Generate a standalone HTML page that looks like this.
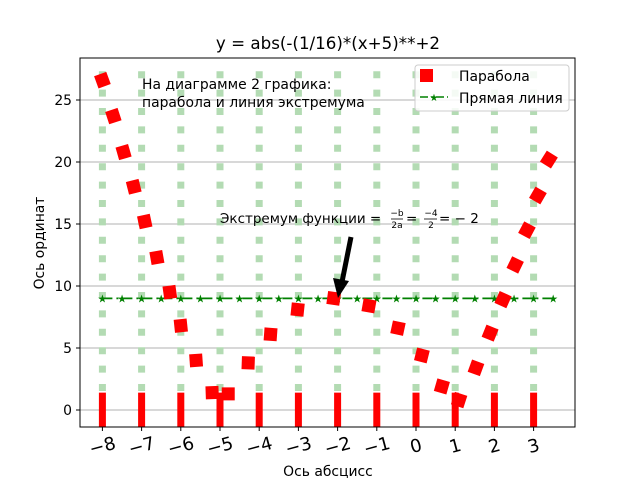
<!DOCTYPE html>
<html><head><meta charset="utf-8"><style>
body{margin:0;background:#fff}
svg{font-family:"DejaVu Sans","Liberation Sans",sans-serif}
</style></head><body>
<svg id="chart" width="640" height="480" viewBox="0 0 640 480" xmlns="http://www.w3.org/2000/svg">
<rect x="0" y="0" width="640" height="480" fill="#fff"/>
<g id="grid"></g>
<g id="marks"></g>
<rect x="80" y="58" width="495" height="369" fill="none" stroke="#000" stroke-width="1"/>
<g id="axes"></g>
<text x="328" y="49" font-size="16.7" text-anchor="middle">y = abs(-(1/16)*(x+5)**+2</text>
<text x="328" y="476" font-size="13.9" text-anchor="middle">Ось абсцисс</text>
<text x="44" y="243" font-size="13.9" text-anchor="middle" transform="rotate(-90 44 243)">Ось ординат</text>
<text x="142" y="89" font-size="13.9"><tspan x="142">На диаграмме 2 графика:</tspan><tspan x="142" dy="18">парабола и линия экстремума</tspan></text>
<g>
<text x="220" y="223" font-size="13.5">Экстремум функции =</text>
<text x="397" y="216" font-size="9" text-anchor="middle">−b</text>
<line x1="391" y1="219" x2="403" y2="219" stroke="#000" stroke-width="0.8"/>
<text x="397" y="228" font-size="9" text-anchor="middle">2a</text>
<text x="406" y="223" font-size="13.5">=</text>
<text x="431" y="216" font-size="9" text-anchor="middle">−4</text>
<line x1="424" y1="219" x2="437" y2="219" stroke="#000" stroke-width="0.8"/>
<text x="431" y="228" font-size="9" text-anchor="middle">2</text>
<text x="439" y="223" font-size="13.5">= − 2</text>
</g>
<g>
<line x1="351" y1="237" x2="342" y2="282" stroke="#000" stroke-width="5"/>
<polygon points="333,278 349,281 338,298" fill="#000"/>
</g>
<g>
<rect x="415" y="65" width="154" height="46" rx="3" fill="#fff" fill-opacity="0.85" stroke="#ccc"/>
<rect x="420" y="69" width="13" height="13" fill="red"/>
<text x="459" y="81" font-size="13.9">Парабола</text>
<line x1="420" y1="97" x2="448" y2="97" stroke="green" stroke-width="1.5" stroke-dasharray="8 3 2 3"/>
<text x="434" y="101" font-size="10" fill="green" text-anchor="middle">★</text>
<text x="459" y="103" font-size="13.9">Прямая линия</text>
</g>
</svg>
<script>
const xTickLabels = ["−8","−7","−6","−5","−4","−3","−2","−1","0","1","2","3"];
const xTickValues = [-8,-7,-6,-5,-4,-3,-2,-1,0,1,2,3];
const yTickValues = [0,5,10,15,20,25];
const parabolaX = [-8,-7.72,-7.46,-7.2,-6.92,-6.61,-6.28,-6,-5.61,-5.2,-4.79,-4.28,-3.71,-3.02,-2.1,-1.2,-0.46,0.15,0.66,1.1,1.53,1.89,2.22,2.53,2.83,3.11,3.39];
const parabolaY = [26.6,23.7,20.8,18.0,15.2,12.3,9.5,6.8,4.0,1.4,1.3,3.8,6.1,8.1,9.0,8.4,6.6,4.4,1.9,0.8,3.4,6.2,8.9,11.7,14.5,17.3,20.2];
const lineY = 9;
const lineX = [-8,-7.5,-7,-6.5,-6,-5.5,-5,-4.5,-4,-3.5,-3,-2.5,-2,-1.5,-1,-0.5,0,0.5,1,1.5,2,2.5,3,3.5];
const barHeight = 1.4;

const xs = v => 416 + v*39.2;
const ys = v => 410 - v*12.4;
const NS = "http://www.w3.org/2000/svg";
function mk(tag, attrs, parent){const e=document.createElementNS(NS,tag);for(const k in attrs)e.setAttribute(k,attrs[k]);parent.appendChild(e);return e;}
const grid=document.getElementById('grid'), marks=document.getElementById('marks'), axes=document.getElementById('axes');

yTickValues.forEach(v=>{
  const l=mk('line',{x1:80,x2:575,y1:ys(v),y2:ys(v),stroke:'#b0b0b0','stroke-width':1},grid);
  
  
  const t=mk('line',{x1:76,x2:80,y1:ys(v),y2:ys(v),stroke:'#000'},axes);
  
  
  const lb=mk('text',{x:72,y:ys(v)+5,'font-size':13.9,'text-anchor':'end'},axes);
  lb.textContent=v;
  
  
});
xTickValues.forEach((v,i)=>{
  const g=mk('line',{x1:xs(v),x2:xs(v),y1:391,y2:64,stroke:'#b3dbb3','stroke-width':7,'stroke-dasharray':'7 11.4'},grid);
  
  
  const b=mk('rect',{x:xs(v)-3.5,y:ys(barHeight),width:7,height:427-ys(barHeight),fill:'red'},marks);
  
  
  const t=mk('line',{x1:xs(v),x2:xs(v),y1:427,y2:431,stroke:'#000'},axes);
  
  
  const lb=mk('text',{x:xs(v),y:452,'font-size':18,'text-anchor':'middle',transform:`rotate(-15 ${xs(v)} 446)`},axes);
  lb.textContent=xTickLabels[i];
  
  
});
const hl=mk('line',{x1:xs(lineX[0]),x2:xs(lineX[lineX.length-1]),y1:ys(lineY),y2:ys(lineY),stroke:'green','stroke-width':1.8,'stroke-dasharray':'10 4 2 4'},marks);


lineX.forEach(v=>{
  const s=mk('text',{x:xs(v),y:ys(lineY)+4,'font-size':11,fill:'green','text-anchor':'middle'},marks);
  s.textContent='★';
  
  
});
parabolaX.forEach((v,i)=>{
  const cx=xs(v), cy=ys(parabolaY[i]);
  const r=mk('rect',{x:cx-6.5,y:cy-6.5,width:13,height:13,fill:'red',transform:`rotate(${-20+i*2} ${cx} ${cy})`},marks);
  
  
});
</script>
</body></html>
